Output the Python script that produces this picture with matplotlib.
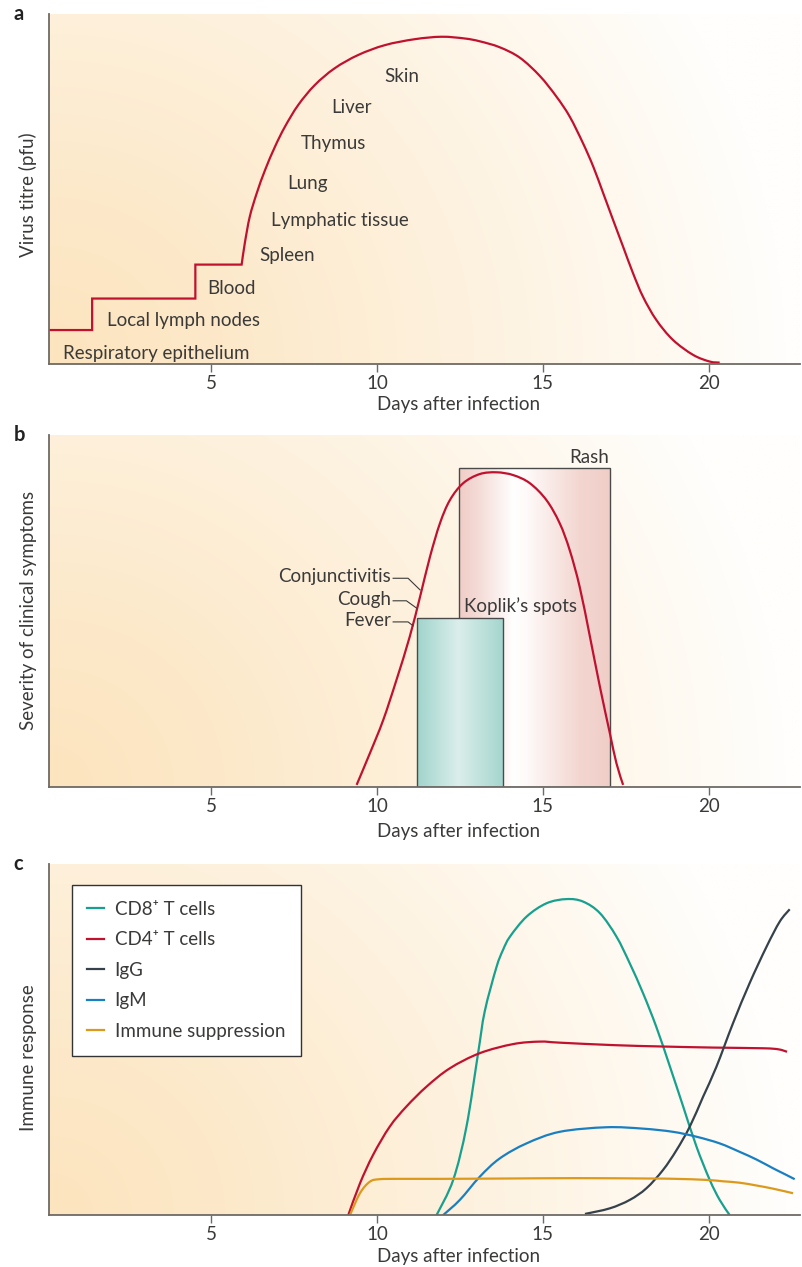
import numpy as np
import matplotlib
matplotlib.use("Agg")
import matplotlib.pyplot as plt
from matplotlib.patches import Rectangle, PathPatch
from matplotlib.path import Path
from matplotlib.lines import Line2D

plt.rcParams['font.family'] = ['Lato', 'DejaVu Sans']

# ---------------- data ----------------
ticks_days = [5, 10, 15, 20]

# Panel a: virus titre -- stepwise spread, then a smooth rise and fall
step_days = [0.12, 1.42, 1.42, 4.53, 4.53, 5.925]
step_vals = [0.097, 0.097, 0.187, 0.187, 0.284, 0.284]
titre_days = [5.925, 6.02, 6.17, 6.38, 6.63, 6.93, 7.23, 7.63, 8.13, 8.73, 9.44, 10.24,
              11.14, 11.95, 12.65, 13.1, 13.7, 14.31, 14.91, 15.41, 15.81, 16.21, 16.52,
              16.82, 17.12, 17.42, 17.72, 18.02, 18.42, 18.92, 19.53, 20.03, 20.33]
titre_vals = [0.284, 0.345, 0.421, 0.488, 0.554, 0.621, 0.678, 0.74, 0.797, 0.845, 0.883,
              0.911, 0.928, 0.935, 0.930, 0.922, 0.905, 0.875, 0.823, 0.764, 0.707, 0.631,
              0.564, 0.488, 0.411, 0.335, 0.259, 0.192, 0.126, 0.069, 0.026, 0.007, 0.004]
organ_labels = ["Respiratory epithelium", "Local lymph nodes", "Blood", "Spleen",
                "Lymphatic tissue", "Lung", "Thymus", "Liver", "Skin"]

# Panel b: clinical symptom severity
severity_days = [9.39, 9.79, 10.19, 10.59, 10.99, 11.3, 11.6, 11.9, 12.2, 12.6, 13.1, 13.61,
                 14.11, 14.61, 15.11, 15.51, 15.81, 16.11, 16.42, 16.72, 17.02, 17.22, 17.42]
severity_vals = [0.006, 0.096, 0.19, 0.304, 0.427, 0.54, 0.654, 0.749, 0.815, 0.863, 0.889,
                 0.894, 0.886, 0.863, 0.815, 0.749, 0.673, 0.569, 0.427, 0.285, 0.153, 0.067,
                 0.006]
rash_span = (12.48, 17.02)
rash_height = 0.905
fever_span = (11.2, 13.79)
fever_height = 0.479
symptom_labels = ["Conjunctivitis", "Cough", "Fever"]

# Panel c: immune response
cd8_days = [11.8, 12.3, 12.7, 13.05, 13.25, 13.6, 13.8, 14.01, 14.51, 15.11, 15.71, 16.21,
            16.72, 17.22, 17.62, 18.02, 18.42, 18.83, 19.23, 19.63, 20.03, 20.33, 20.63]
cd8_vals = [0.0, 0.1, 0.252, 0.461, 0.58, 0.705, 0.755, 0.793, 0.85, 0.888, 0.9, 0.893,
            0.86, 0.793, 0.717, 0.632, 0.536, 0.423, 0.309, 0.195, 0.1, 0.043, 0.0]
cd4_days = [9.14, 9.49, 9.89, 10.39, 10.89, 11.5, 12.2, 13.1, 14.11, 14.91, 15.51, 17.12,
            18.62, 20.13, 21.64, 22.1, 22.36]
cd4_vals = [0.0, 0.09, 0.172, 0.252, 0.309, 0.366, 0.418, 0.461, 0.487, 0.494, 0.491, 0.484,
            0.48, 0.477, 0.475, 0.472, 0.465]
igg_days = [16.27, 17.02, 17.62, 18.12, 18.62, 19.03, 19.43, 19.83, 20.23, 20.73,
            21.23, 21.74, 22.14, 22.44]
igg_vals = [0.003, 0.019, 0.043, 0.076, 0.128, 0.185, 0.252, 0.337, 0.422, 0.546,
            0.66, 0.764, 0.836, 0.871]
igm_days = [12.0, 12.5, 13.1, 13.7, 14.51, 15.51, 16.92, 18.02, 18.92, 19.63, 20.33, 20.93,
            21.44, 21.94, 22.3, 22.59]
igm_vals = [0.0, 0.043, 0.109, 0.161, 0.204, 0.237, 0.25, 0.246, 0.237, 0.223, 0.204, 0.18,
            0.158, 0.133, 0.116, 0.102]
sup_days = [9.19, 9.49, 9.79, 10.09, 10.69, 12.0, 14.0, 16.0, 18.12, 19.0, 19.93,
            20.43, 20.93, 21.44, 21.94, 22.54]
sup_vals = [0.0, 0.062, 0.095, 0.102, 0.103, 0.103, 0.104, 0.105, 0.104,
            0.103, 0.1, 0.096, 0.092, 0.084, 0.075, 0.062]
immune_names = ["CD8\u207a T cells", "CD4\u207a T cells", "IgG", "IgM", "Immune suppression"]

# ---------------- styling ----------------
TXT = '#3b3a39'
SPINE = '#6e6a66'
RED = '#c0112f'
FS = 13.5

fig = plt.figure(figsize=(8.02, 12.67), dpi=100)
W, H = 802.0, 1267.0


def make_axes(top_px, bottom_px):
    left_px, right_px = 49, 800
    return fig.add_axes([left_px / W, 1 - bottom_px / H, (right_px - left_px) / W,
                         (bottom_px - top_px) / H])


def smooth_segments(xs, ys, first_code=Path.MOVETO):
    """Smooth (Catmull-Rom style) Bezier path through the read points."""
    P = np.column_stack([xs, ys]).astype(float)
    n = len(P)
    verts = [P[0]]
    codes = [first_code]
    for i in range(n - 1):
        p0 = P[i - 1] if i > 0 else P[i]
        p1, p2 = P[i], P[i + 1]
        p3 = P[i + 2] if i + 2 < n else P[i + 1]
        verts += [p1 + (p2 - p0) / 6.0, p2 - (p3 - p1) / 6.0, p2]
        codes += [Path.CURVE4] * 3
    return verts, codes


def draw_curve(ax, xs, ys, color, pre_x=None, pre_y=None):
    verts, codes = [], []
    if pre_x is not None:
        verts = [(pre_x[0], pre_y[0])] + list(zip(pre_x[1:], pre_y[1:]))
        codes = [Path.MOVETO] + [Path.LINETO] * (len(pre_x) - 1)
        v, c = smooth_segments(xs, ys, Path.LINETO)
    else:
        v, c = smooth_segments(xs, ys)
    verts += list(v)
    codes += c
    ax.add_patch(PathPatch(Path(verts, codes), fill=False, edgecolor=color, lw=1.6,
                           zorder=3, joinstyle='miter', capstyle='butt'))


def background(ax):
    nx, ny = 400, 150
    x = np.linspace(0, 1, nx)
    y = np.linspace(0, 1, ny)
    X, Y = np.meshgrid(x, y)
    d = np.sqrt((X * 1.02) ** 2 + (Y * 0.5) ** 2)
    t = np.clip(d, 0, 1) ** 1.15
    orange = np.array([252, 228, 190]) / 255.0
    white = np.array([255, 254, 252]) / 255.0
    img = orange * (1 - t[..., None]) + white * t[..., None]
    ax.imshow(img, extent=(0, 1, 0, 1), transform=ax.transAxes, origin='lower',
              aspect='auto', zorder=0, interpolation='bilinear')


def style(ax, ylabel, ylab_y, xlab_y, letter):
    background(ax)
    for s in ['top', 'right']:
        ax.spines[s].set_visible(False)
    for s in ['left', 'bottom']:
        ax.spines[s].set_color(SPINE)
        ax.spines[s].set_linewidth(1.3)
        ax.spines[s].set_zorder(5)
    ax.set_yticks([])
    ax.set_xticks(ticks_days)
    ax.set_xticklabels([str(t) for t in ticks_days])
    ax.tick_params(axis='x', direction='out', length=6, width=1.0, color=SPINE,
                   labelsize=FS, labelcolor=TXT, pad=2)
    ax.set_xlabel("Days after infection", fontsize=FS, color=TXT, va='center')
    ax.xaxis.set_label_coords((459 - 49) / 751.0, xlab_y)
    ax.set_ylabel(ylabel, fontsize=FS, color=TXT)
    ax.yaxis.set_label_coords(-0.016, ylab_y)
    ax.text(-0.047, 1.0, letter, transform=ax.transAxes, fontsize=14.5, fontweight='bold',
            color='#222222', ha='left', va='center')


def limits(ax):
    ax.set_xlim(0.12, 22.75)
    ax.set_ylim(0, 1)


# ---------------- panel a ----------------
axa = make_axes(14, 364)
style(axa, "Virus titre (pfu)", 0.483, -0.117, 'a')
draw_curve(axa, titre_days, titre_vals, RED, pre_x=step_days, pre_y=step_vals)
organ_pos = [(0.54, 0.031), (1.87, 0.123), (4.88, 0.217), (6.45, 0.311), (6.8, 0.409),
             (7.29, 0.517), (7.71, 0.631), (8.64, 0.734), (10.21, 0.82)]
for lab, (xx, yy) in zip(organ_labels, organ_pos):
    axa.text(xx, yy, lab, fontsize=FS, color=TXT, ha='left', va='center', zorder=4)
limits(axa)

# ---------------- panel b ----------------
axb = make_axes(435, 787)
style(axb, "Severity of clinical symptoms", 0.503, -0.127, 'b')


def grad_rect(ax, x0, x1, top, stops, z):
    pos = np.array([s[0] for s in stops])
    cols = np.array([s[1] for s in stops]) / 255.0
    xs = np.linspace(0, 1, 300)
    img = np.stack([np.interp(xs, pos, cols[:, k]) for k in range(3)], axis=-1)[None, :, :]
    ax.imshow(img, extent=(x0, x1, 0, top), aspect='auto', zorder=z, interpolation='bilinear')
    ax.add_patch(Rectangle((x0, 0), x1 - x0, top, fill=False, edgecolor='#4a4a4a',
                           lw=1.0, zorder=z + 0.1))


grad_rect(axb, rash_span[0], rash_span[1], rash_height,
          [(0, (240, 205, 198)), (0.12, (244, 218, 213)), (0.36, (255, 255, 255)),
           (0.45, (254, 250, 249)), (0.8, (243, 214, 208)), (1, (240, 206, 200))], 1)
grad_rect(axb, fever_span[0], fever_span[1], fever_height,
          [(0, (160, 212, 204)), (0.48, (219, 238, 235)), (1, (165, 214, 206))], 1.5)
draw_curve(axb, severity_days, severity_vals, RED)
axb.text(17.0, 0.935, "Rash", fontsize=FS, color=TXT, ha='right', va='center', zorder=4)
axb.text(12.62, 0.515, "Koplik\u2019s spots", fontsize=FS,
         color=TXT, ha='left', va='center', zorder=4)
sym_y = [0.598, 0.534, 0.474]
leader_mid = [10.94, 10.89, 10.94]
leader_end = [(11.3, 0.56), (11.2, 0.508), (11.09, 0.458)]
for lab, yy, mx, (ex, ey) in zip(symptom_labels, sym_y, leader_mid, leader_end):
    axb.text(10.43, yy, lab, fontsize=FS, color=TXT, ha='right', va='center', zorder=4)
    ly = yy - 0.005
    axb.plot([10.49, mx, ex], [ly, ly, ey], color='#3b3a39', lw=0.8, zorder=4)
limits(axb)

# ---------------- panel c ----------------
axc = make_axes(864, 1215)
style(axc, "Immune response", 0.449, -0.119, 'c')
series = [(cd8_days, cd8_vals, '#17a08e'), (cd4_days, cd4_vals, RED),
          (igg_days, igg_vals, '#35424c'), (igm_days, igm_vals, '#1a7fc1'),
          (sup_days, sup_vals, '#dc9a1c')]
handles = []
for name, (dx, dy, col) in zip(immune_names, series):
    draw_curve(axc, dx, dy, col)
    handles.append(Line2D([], [], color=col, lw=1.6, label=name))
limits(axc)
leg = axc.legend(handles=handles, loc='upper left', bbox_to_anchor=(0.030, 0.940),
                 borderaxespad=0, frameon=True, fancybox=False, framealpha=1,
                 edgecolor='#333333', fontsize=FS, handlelength=0.9, handletextpad=0.55,
                 labelspacing=0.72, borderpad=0.85)
leg.get_frame().set_linewidth(1.0)
for t in leg.get_texts():
    t.set_color(TXT)

fig.savefig("out.png", dpi=100)
